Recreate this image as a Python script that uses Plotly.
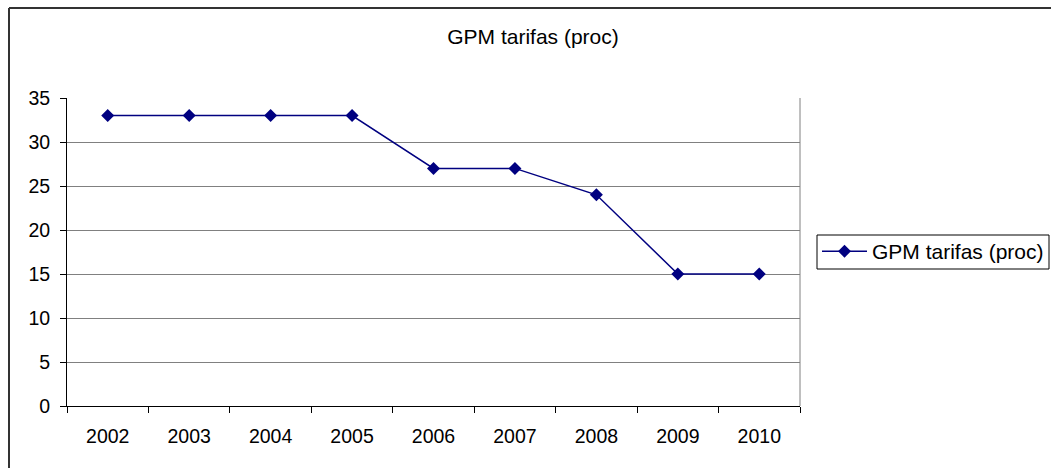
import plotly.graph_objects as go

years = ["2002", "2003", "2004", "2005", "2006", "2007", "2008", "2009", "2010"]
values = [33, 33, 33, 33, 27, 27, 24, 15, 15]
series_name = "GPM tarifas (proc)"
title_text = "GPM tarifas (proc)"

W, H = 1051, 468
L, R, T, B = 67, 251, 98, 62
pw = W - L - R
ph = H - T - B

def px_x(x):
    return (x - L) / pw

def px_y(y):
    return (H - B - y) / ph

FONT = "Liberation Sans, Arial, sans-serif"
NAVY = "#000080"

fig = go.Figure()
fig.add_trace(go.Scatter(
    x=years, y=values, name=series_name, mode="lines+markers",
    line=dict(color=NAVY, width=1.5),
    marker=dict(symbol="diamond", size=10, color=NAVY),
    showlegend=True,
))

fig.update_layout(
    width=W, height=H,
    margin=dict(l=L, r=R, t=T, b=B, autoexpand=False),
    paper_bgcolor="white", plot_bgcolor="white",
    font=dict(family=FONT, size=19.5, color="black"),
    title=dict(text=title_text, x=533 / W, xanchor="center",
               y=1 - 37 / H, yanchor="middle", font=dict(size=21, family=FONT, color="black")),
    xaxis=dict(type="category", range=[-0.5, 8.5], showline=True, linecolor="black", linewidth=1,
               ticks="outside", ticklen=6, tickcolor="black", tickson="boundaries",
               showgrid=False, zeroline=False, ticklabelstandoff=13, fixedrange=True,
               tickfont=dict(size=19.5)),
    yaxis=dict(range=[0, 35], dtick=5, showline=True, linecolor="black", linewidth=1,
               ticks="outside", ticklen=6, tickcolor="black",
               showgrid=True, gridcolor="#808080", gridwidth=1, zeroline=False,
               ticklabelstandoff=6, fixedrange=True, tickfont=dict(size=19.5)),
    legend=dict(x=px_x(817), y=px_y(231), xanchor="left", yanchor="top",
                borderwidth=0, bgcolor="rgba(0,0,0,0)",
                font=dict(size=21, family=FONT, color="black"),
                tracegroupgap=0, itemwidth=45),
    shapes=[
        dict(type="line", xref="paper", yref="paper", x0=1, x1=1, y0=0, y1=1,
             line=dict(color="#808080", width=1)),
        dict(type="rect", xref="paper", yref="paper",
             x0=px_x(817), x1=px_x(1049), y0=px_y(269), y1=px_y(235),
             line=dict(color="black", width=1), fillcolor="rgba(0,0,0,0)", layer="below"),
        dict(type="line", xref="paper", yref="paper",
             x0=px_x(9), x1=px_x(9), y0=px_y(8), y1=px_y(500),
             line=dict(color="#333333", width=2)),
        dict(type="line", xref="paper", yref="paper",
             x0=px_x(9), x1=px_x(1200), y0=px_y(8), y1=px_y(8),
             line=dict(color="#333333", width=2)),
    ],
)

fig.write_html("out.html")
